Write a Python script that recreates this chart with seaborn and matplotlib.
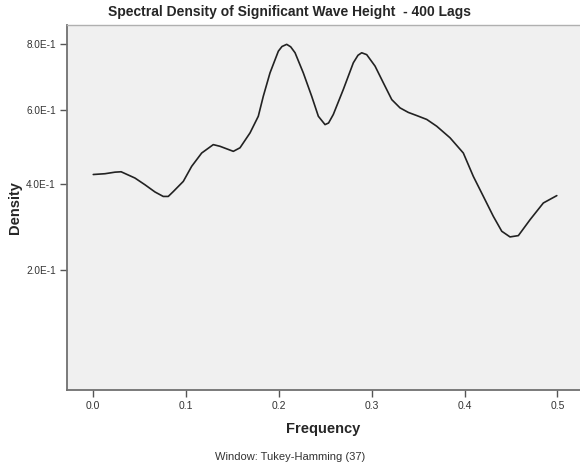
import numpy as np
import pandas as pd
import matplotlib
matplotlib.use("Agg")
import matplotlib.pyplot as plt
import seaborn as sns

# Data
frequency = [0.0, 0.0126, 0.0234, 0.030, 0.0449, 0.0557, 0.0665, 0.0754, 0.0808, 0.0862,
             0.097, 0.106, 0.1168, 0.1293, 0.1365, 0.1509, 0.1581, 0.1689, 0.1778, 0.1832,
             0.1904, 0.1994, 0.2033, 0.2084, 0.2127, 0.2174, 0.2263, 0.2353, 0.2425, 0.2497,
             0.2535, 0.2586, 0.2694,
             0.2802, 0.2852, 0.2892, 0.2946, 0.3036, 0.3125, 0.3216, 0.3305, 0.3394, 0.3485, 0.3593,
             0.370, 0.3844, 0.3987, 0.4095, 0.4203, 0.431, 0.4401, 0.449, 0.458, 0.4706,
             0.4849, 0.4994]
density = [0.424, 0.426, 0.430, 0.431, 0.415, 0.398, 0.380, 0.369, 0.369, 0.381,
           0.4065, 0.445, 0.480, 0.5025, 0.498, 0.4845, 0.494, 0.5345, 0.581, 0.639,
           0.709, 0.777, 0.792, 0.799, 0.791, 0.772, 0.709, 0.639, 0.581, 0.5575,
           0.562, 0.586, 0.659,
           0.7405, 0.764, 0.772, 0.766, 0.730, 0.679, 0.629, 0.605, 0.592, 0.583, 0.572,
           0.553, 0.521, 0.480, 0.419, 0.369, 0.321, 0.286, 0.273, 0.276, 0.313,
           0.353, 0.371]
x_ticks = [0.0, 0.1, 0.2, 0.3, 0.4, 0.5]
y_ticks = [0.2, 0.4, 0.6, 0.8]
y_tick_labels = ["2.0E-1", "4.0E-1", "6.0E-1", "8.0E-1"]

df = pd.DataFrame({"Frequency": frequency, "Density": density})

sns.set_theme(style="white")
plt.rcParams["font.family"] = ["Liberation Sans", "DejaVu Sans"]

fig = plt.figure(figsize=(5.8, 4.66), dpi=100)
ax = fig.add_axes([67/580, 1 - 390/466, 1 - 67/580, (390 - 24.7)/466])
ax.set_facecolor("#f0f0f0")

sns.lineplot(data=df, x="Frequency", y="Density", sort=False, color="#222222",
             linewidth=1.2, ax=ax)
for ln in ax.lines:
    ln.set_solid_joinstyle("round")

ax.set_yscale("function", functions=(np.log1p, np.expm1))
ax.set_xlim(-0.0283, 0.5244)
ax.set_ylim(-0.033, 0.8636)

ax.set_xticks(x_ticks)
ax.set_xticklabels([f"{t:.1f}" for t in x_ticks], fontsize=7.5, color="#333333")
ax.set_yticks(y_ticks)
ax.set_yticklabels(y_tick_labels, fontsize=7.2, color="#333333")
ax.minorticks_off()
ax.tick_params(axis="both", direction="out", length=5, width=1, color="#555555",
               bottom=True, left=True, pad=3)

for side in ["left", "bottom"]:
    ax.spines[side].set_color("#707070")
    ax.spines[side].set_linewidth(1.3)
ax.spines["top"].set_color("#b0b0b0")
ax.spines["top"].set_linewidth(1.0)
ax.spines["right"].set_visible(False)

ax.set_xlabel("Frequency", fontsize=10.5, fontweight="bold", labelpad=8)
ax.set_ylabel("Density", fontsize=10.5, fontweight="bold", labelpad=3)

fig.text(0.5, 1 - 12/466, "Spectral Density of Significant Wave Height  - 400 Lags",
         ha="center", va="center", fontsize=10, fontweight="bold")
fig.text(0.5, 1 - 457/466, "Window: Tukey-Hamming (37)", ha="center", va="center",
         fontsize=8, color="#333333")

fig.savefig("out.png", dpi=100, facecolor="white")
